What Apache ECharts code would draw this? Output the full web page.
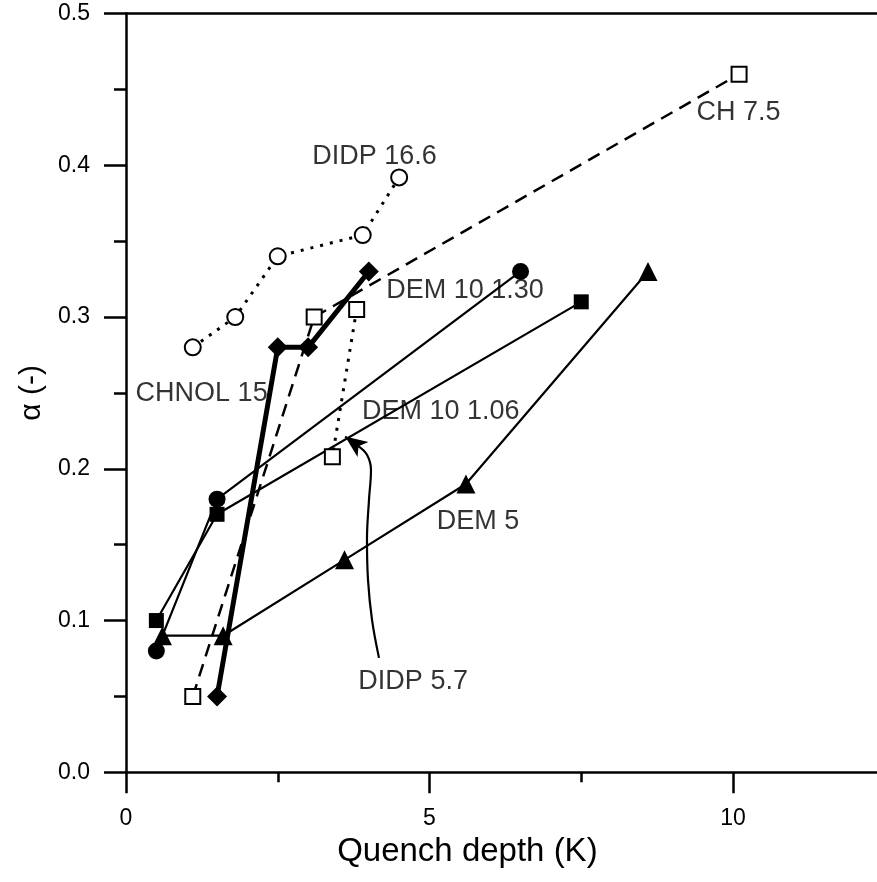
<!DOCTYPE html>
<html>
<head>
<meta charset="utf-8">
<script src="https://cdn.jsdelivr.net/npm/echarts@6/dist/echarts.min.js"></script>
<style>
html,body{margin:0;padding:0;background:#fff;}
#chart{width:877px;height:882px;}
</style>
</head>
<body>
<div id="chart"></div>
<script>
// ---- data ----
const dem130X = [0.5, 1.5, 6.5];
const dem130Y = [0.08, 0.18, 0.33];
const dem106X = [0.5, 1.5, 7.5];
const dem106Y = [0.10, 0.17, 0.31];
const dem5X = [0.6, 1.6, 3.6, 5.6, 8.6];
const dem5Y = [0.09, 0.09, 0.14, 0.19, 0.33];
const chnolX = [1.5, 2.5, 3.0, 4.0];
const chnolY = [0.05, 0.28, 0.28, 0.33];
const ch75X = [1.1, 3.1, 10.1];
const ch75Y = [0.05, 0.30, 0.46];
const didp166X = [1.1, 1.8, 2.5, 3.9, 4.5];
const didp166Y = [0.28, 0.30, 0.34, 0.354, 0.392];
const didp57X = [3.8, 3.4];
const didp57Y = [0.305, 0.208];

// annotation labels (left edge, vertical middle)
const labelTexts = ['DIDP 16.6', 'CH 7.5', 'DEM 10 1.30', 'CHNOL 15', 'DEM 10 1.06', 'DEM 5', 'DIDP 5.7'];
const labelX = [3.06, 9.39, 4.28, 0.15, 3.88, 5.11, 3.82];
const labelY = [0.406, 0.435, 0.3175, 0.2494, 0.2377, 0.165, 0.060];

// curved arrow from "DIDP 5.7" label to its curve
const arrowX = [4.168, 4.053, 3.987, 3.970, 4.003, 4.036, 3.970, 3.822];
const arrowY = [0.0754, 0.1004, 0.1268, 0.1532, 0.1795, 0.1993, 0.2092, 0.2151];
const arrowHeadX = [3.822, 3.610];
const arrowHeadY = [0.2151, 0.2212];

// axes
const xMin = 0, xMax = 12.5, xMajor = 5, xMinor = 2.5;
const yMin = 0, yMax = 0.5, yMajor = 0.1;
const xTitle = 'Quench depth (K)';
const yTitle = 'α (-)';

const FONT = "'Liberation Sans', Arial, sans-serif";
const pts = (xs, ys) => xs.map((x, i) => [x, ys[i]]);

const chart = echarts.init(document.getElementById('chart'), null, {renderer: 'canvas'});

function lineSeries(name, xs, ys, symbol, size, filled, lw, ltype) {
  return {
    name, type: 'line', data: pts(xs, ys),
    symbol, symbolSize: size, showSymbol: true,
    itemStyle: filled ? {color: '#000', borderColor: '#000', borderWidth: 0}
                      : {color: '#fff', borderColor: '#000', borderWidth: 2},
    lineStyle: {color: '#000', width: lw, type: ltype, cap: 'butt'},
    z: 3, animation: false, silent: true
  };
}

const AX = 2.5;
const option = {
  backgroundColor: '#fff',
  animation: false,
  grid: {left: 126, top: 13.5, right: 877 - 126 - 60.7 * 12.5, bottom: 882 - 772.3, containLabel: false, outerBoundsMode: 'none'},
  xAxis: [
    {
      type: 'value', min: xMin, max: xMax, interval: xMajor, position: 'bottom',
      name: xTitle, nameLocation: 'middle', nameGap: 55,
      nameTextStyle: {fontSize: 33, color: '#000', fontFamily: FONT, padding: [0, 76, 0, 0]},
      axisLine: {show: true, onZero: false, lineStyle: {color: '#000', width: AX}},
      axisTick: {show: true, inside: false, length: 21, lineStyle: {color: '#000', width: AX}},
      axisLabel: {show: true, margin: 35, fontSize: 23, color: '#000', fontFamily: FONT,
        formatter: v => (Math.abs(v % xMajor) < 1e-9 ? String(v) : '')},
      splitLine: {show: false}
    },
    {
      type: 'value', min: xMin, max: xMax, interval: xMinor, position: 'bottom',
      axisLine: {show: false},
      axisTick: {show: true, inside: false, length: 10, lineStyle: {color: '#000', width: AX}},
      axisLabel: {show: false}, splitLine: {show: false}
    },
    {
      type: 'value', min: xMin, max: xMax, position: 'top',
      axisLine: {show: true, onZero: false, lineStyle: {color: '#000', width: AX}},
      axisTick: {show: false}, axisLabel: {show: false}, splitLine: {show: false}
    }
  ],
  yAxis: [{
    type: 'value', min: yMin, max: yMax, interval: yMajor, position: 'left',
    name: yTitle, nameLocation: 'middle', nameGap: 77, nameRotate: 90,
    nameTextStyle: {fontSize: 30, color: '#000', fontFamily: FONT},
    axisLine: {show: true, onZero: false, lineStyle: {color: '#000', width: AX}},
    axisTick: {show: true, inside: false, length: 22, lineStyle: {color: '#000', width: AX}},
    minorTick: {show: true, splitNumber: 2, length: 12, lineStyle: {color: '#000', width: AX}},
    axisLabel: {show: true, margin: 36, fontSize: 23, color: '#000', fontFamily: FONT,
      formatter: v => v.toFixed(1)},
    splitLine: {show: false}, minorSplitLine: {show: false}
  }],
  series: [
    lineSeries('CH 7.5', ch75X, ch75Y, 'rect', 15, false, 2.5, [13, 8]),
    lineSeries('DIDP 16.6', didp166X, didp166Y, 'circle', 16, false, 3, [3, 7]),
    lineSeries('DIDP 5.7', didp57X, didp57Y, 'rect', 15, false, 3, [3, 7]),
    lineSeries('DEM 10 1.30', dem130X, dem130Y, 'circle', 17, true, 2.2, 'solid'),
    lineSeries('DEM 10 1.06', dem106X, dem106Y, 'rect', 15, true, 2.2, 'solid'),
    lineSeries('DEM 5', dem5X, dem5Y, 'triangle', 19, true, 2.2, 'solid'),
    lineSeries('CHNOL 15', chnolX, chnolY, 'diamond', 20, true, 5, 'solid'),
    {
      name: 'arrow', type: 'line', data: pts(arrowX, arrowY), smooth: 0.4,
      symbol: 'none', showSymbol: false, lineStyle: {color: '#000', width: 2.2}, z: 4, silent: true,
      markLine: {
        silent: true, animation: false, symbol: ['none', 'arrow'], symbolSize: [14, 22],
        label: {show: false},
        lineStyle: {color: '#000', width: 2.2, type: 'solid'},
        itemStyle: {color: '#000'},
        data: [[{coord: [arrowHeadX[0], arrowHeadY[0]]}, {coord: [arrowHeadX[1], arrowHeadY[1]]}]]
      }
    },
    {
      name: 'labels', type: 'scatter', silent: true,
      data: labelTexts.map((t, i) => ({name: t, value: [labelX[i], labelY[i]]})),
      symbol: 'circle', symbolSize: 1, itemStyle: {color: 'rgba(0,0,0,0)'},
      label: {show: true, formatter: '{b}', position: 'right', distance: 0,
        fontSize: 27, color: '#000', fontFamily: FONT},
      z: 5
    }
  ]
};
chart.setOption(option);
</script>
</body>
</html>
